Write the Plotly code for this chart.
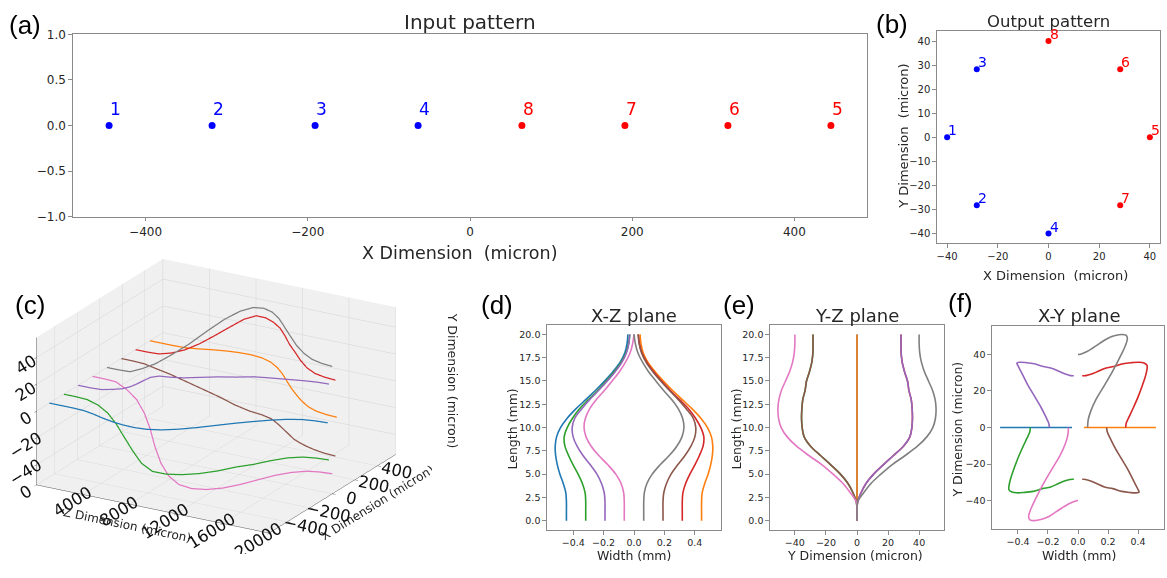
import plotly.graph_objects as go

# ---------------- data ----------------
# Input facet: fibre positions along X (micron) and their port numbers
input_x = [-445, -318, -191, -64, 64, 191, 318, 445]
input_labels = ["1", "2", "3", "4", "8", "7", "6", "5"]

# Output facet: port positions on the ring (micron)
output_labels = ["1", "2", "3", "4", "5", "6", "7", "8"]
output_x = [-40, -28.3, -28.3, 0, 40, 28.3, 28.3, 0]
output_y = [0, -28.3, 28.3, -40, 0, 28.3, -28.3, 40]

# Propagation length samples (mm)
z_mm = [0, 1, 2, 3, 4, 5, 6, 7, 8, 9, 10, 11, 12, 13, 14, 15, 16, 17, 18, 19, 20]

# Waveguide width coordinate X along the length (mm)
wg1_x = [-0.445, -0.445, -0.445, -0.449, -0.466, -0.488, -0.505, -0.516, -0.519, -0.510, -0.484,
         -0.440, -0.383, -0.318, -0.253, -0.194, -0.139, -0.092, -0.061, -0.046, -0.040]
wg5_x = [0.445, 0.445, 0.445, 0.449, 0.466, 0.488, 0.505, 0.516, 0.519, 0.510, 0.484,
         0.440, 0.383, 0.318, 0.253, 0.194, 0.139, 0.092, 0.061, 0.046, 0.040]
wg2_x = [-0.318, -0.318, -0.318, -0.322, -0.340, -0.368, -0.401, -0.431, -0.455, -0.460, -0.440,
         -0.405, -0.360, -0.300, -0.238, -0.182, -0.130, -0.085, -0.053, -0.036, -0.028]
wg6_x = [0.318, 0.318, 0.318, 0.322, 0.340, 0.368, 0.401, 0.431, 0.455, 0.460, 0.440,
         0.405, 0.360, 0.300, 0.238, 0.182, 0.130, 0.085, 0.053, 0.036, 0.028]
wg3_x = [-0.191, -0.191, -0.191, -0.196, -0.214, -0.244, -0.288, -0.336, -0.375, -0.401, -0.407,
         -0.390, -0.345, -0.292, -0.232, -0.176, -0.124, -0.080, -0.050, -0.034, -0.028]
wg7_x = [0.191, 0.191, 0.191, 0.196, 0.214, 0.244, 0.288, 0.336, 0.375, 0.401, 0.407,
         0.390, 0.345, 0.292, 0.232, 0.176, 0.124, 0.080, 0.050, 0.034, 0.028]
wg4_x = [-0.064, -0.064, -0.064, -0.068, -0.085, -0.120, -0.172, -0.232, -0.282, -0.316, -0.329,
         -0.320, -0.292, -0.248, -0.194, -0.144, -0.096, -0.057, -0.026, -0.009, 0.000]
wg8_x = [0.064, 0.064, 0.064, 0.068, 0.085, 0.120, 0.172, 0.232, 0.282, 0.316, 0.329,
         0.320, 0.292, 0.248, 0.194, 0.144, 0.096, 0.057, 0.026, 0.009, 0.000]

# Waveguide Y coordinate along the length (micron)
wg1_y = [0.0] * 21
wg5_y = [0.0] * 21
wg2_y = [0, 0, -0.4, -2.6, -5.8, -10.7, -16.9, -23.5, -29.9, -34.0, -35.3,
         -35.7, -35.5, -34.9, -33.4, -32.5, -30.6, -29.1, -28.4, -28.3, -28.3]
wg7_y = [0, 0, -0.4, -2.6, -5.8, -10.7, -16.9, -23.5, -29.9, -34.0, -35.3,
         -35.7, -35.5, -34.9, -33.4, -32.5, -30.6, -29.1, -28.4, -28.3, -28.3]
wg6_y = [0, 0, 0.4, 2.6, 5.8, 10.7, 16.9, 23.5, 29.9, 34.0, 35.3,
         35.7, 35.5, 34.9, 33.4, 32.5, 30.6, 29.1, 28.4, 28.3, 28.3]
wg3_y = [0, 0, 0.4, 2.6, 5.8, 10.7, 16.9, 23.5, 29.9, 34.0, 35.3,
         35.7, 35.5, 34.9, 33.4, 32.5, 30.6, 29.1, 28.4, 28.3, 28.3]
wg4_y = [0, 0, -0.4, -4.3, -9.0, -15.4, -22.5, -31.0, -38.9, -44.9, -48.8,
         -50.5, -50.9, -50.3, -48.6, -46.0, -43.4, -41.5, -40.4, -40.0, -40.0]
wg8_y = [0, 0, 0.4, 4.3, 9.0, 15.4, 22.5, 31.0, 38.9, 44.9, 48.8,
         50.5, 50.9, 50.3, 48.6, 46.0, 43.4, 41.5, 40.4, 40.0, 40.0]

# drawing order (matplotlib colour cycle order)
waveguides = [
    (wg1_x, wg1_y, "#1f77b4"),
    (wg5_x, wg5_y, "#ff7f0e"),
    (wg2_x, wg2_y, "#2ca02c"),
    (wg6_x, wg6_y, "#d62728"),
    (wg3_x, wg3_y, "#9467bd"),
    (wg7_x, wg7_y, "#8c564b"),
    (wg4_x, wg4_y, "#e377c2"),
    (wg8_x, wg8_y, "#7f7f7f"),
]

W, H = 1167, 578
TICK_FONT = "DejaVu Sans"
LABEL_FONT = "DejaVu Sans"
AX_COLOR = "#8a8a8a"
TXT_COLOR = "#262626"


def px(x):
    return x / W


def py(y):
    return 1 - y / H


fig = go.Figure()

# ---- (a) input pattern ----
in_colors = ["blue" if lab in "1234" else "red" for lab in input_labels]
fig.add_trace(go.Scatter(x=input_x, y=[0] * len(input_x), mode="markers",
                         marker=dict(size=7, color=in_colors), xaxis="x", yaxis="y",
                         showlegend=False, hoverinfo="skip"))

# ---- (b) output pattern ----
out_colors = ["blue" if lab in "1234" else "red" for lab in output_labels]
fig.add_trace(go.Scatter(x=output_x, y=output_y, mode="markers",
                         marker=dict(size=6, color=out_colors), xaxis="x2", yaxis="y2",
                         showlegend=False, hoverinfo="skip"))

# ---- (c) 3D trajectories, (d) X-Z, (e) Y-Z, (f) X-Y ----
for xs, ys, col in waveguides:
    fig.add_trace(go.Scatter3d(x=[z * 1000 for z in z_mm], y=[x * 1000 for x in xs], z=ys,
                               mode="lines", line=dict(color=col, width=2.5),
                               scene="scene", showlegend=False, hoverinfo="skip"))
for xs, ys, col in waveguides:
    fig.add_trace(go.Scatter(x=xs, y=z_mm, mode="lines", line=dict(color=col, width=1.6, shape="spline"),
                             xaxis="x3", yaxis="y3", showlegend=False, hoverinfo="skip"))
for xs, ys, col in waveguides:
    fig.add_trace(go.Scatter(x=ys, y=z_mm, mode="lines", line=dict(color=col, width=1.6, shape="spline"),
                             xaxis="x4", yaxis="y4", showlegend=False, hoverinfo="skip"))
for xs, ys, col in waveguides:
    fig.add_trace(go.Scatter(x=xs, y=ys, mode="lines", line=dict(color=col, width=1.6, shape="spline"),
                             xaxis="x5", yaxis="y5", showlegend=False, hoverinfo="skip"))


def axis(domain, anchor, rng, tickvals, fmt=None, size=12):
    d = dict(domain=domain, anchor=anchor, range=rng, tickvals=tickvals,
             showline=True, mirror=True, linecolor=AX_COLOR, linewidth=1.3,
             ticks="outside", ticklen=3.5, tickwidth=1, tickcolor=AX_COLOR,
             showgrid=False, zeroline=False,
             tickfont=dict(family=TICK_FONT, size=size, color=TXT_COLOR))
    if fmt:
        d["tickformat"] = fmt
    return d


layout = dict(
    width=W, height=H, margin=dict(l=0, r=0, t=0, b=0),
    paper_bgcolor="white", plot_bgcolor="white",
    xaxis=axis([px(73), px(867)], "y", [-489.5, 489.5], [-400, -200, 0, 200, 400], size=12),
    yaxis=axis([py(215), py(28)], "x", [-1, 1], [-1, -0.5, 0, 0.5, 1], ".1f", size=12),
    xaxis2=axis([px(937), px(1160)], "y2", [-44, 44], [-40, -20, 0, 20, 40], size=10),
    yaxis2=axis([py(242), py(25)], "x2", [-44, 44], [-40, -30, -20, -10, 0, 10, 20, 30, 40], size=10),
    xaxis3=axis([px(547), px(721)], "y3", [-0.573, 0.573], [-0.4, -0.2, 0, 0.2, 0.4], ".1f", size=9.5),
    yaxis3=axis([py(536), py(326)], "x3", [-1, 21], [0, 2.5, 5, 7.5, 10, 12.5, 15, 17.5, 20], ".1f", size=9.5),
    xaxis4=axis([px(770), px(944)], "y4", [-56, 56], [-40, -20, 0, 20, 40], size=9.5),
    yaxis4=axis([py(536), py(326)], "x4", [-1, 21], [0, 2.5, 5, 7.5, 10, 12.5, 15, 17.5, 20], ".1f", size=9.5),
    xaxis5=axis([px(992), px(1164)], "y5", [-0.573, 0.573], [-0.4, -0.2, 0, 0.2, 0.4], ".1f", size=9.5),
    yaxis5=axis([py(535), py(327)], "x5", [-55.5, 55.5], [-40, -20, 0, 20, 40], size=9.5),
)


def ax3(title, rng, tickvals):
    return dict(title=dict(text=title, font=dict(family=LABEL_FONT, size=12, color=TXT_COLOR)),
                range=rng, tickvals=tickvals, tickformat="d", showbackground=True,
                backgroundcolor="#f0f0f0", gridcolor="#d4d4d4", gridwidth=1, zeroline=False,
                showspikes=False, linecolor="#555555", showline=True, ticks="outside", ticklen=4,
                tickfont=dict(family=TICK_FONT, size=14, color="#111111"))


layout["scene"] = dict(
    domain=dict(x=[0.0, 0.37], y=[0.03, 0.59]),
    xaxis=ax3("Z Dimension (micron)", [0, 20000], [0, 4000, 8000, 12000, 16000, 20000]),
    yaxis=ax3("X Dimension (micron)", [-560, 560], [-400, -200, 0, 200, 400]),
    # vertical axis title is written beside the box as a separate label
    zaxis=ax3("", [-55, 55], [-40, -20, 0, 20, 40]),
    aspectmode="manual", aspectratio=dict(x=1.70, y=1.60, z=1.0),
    camera=dict(eye=dict(x=0.934, y=-1.617, z=0.717), center=dict(x=0, y=0, z=0.0),
                projection=dict(type="orthographic")),
    bgcolor="rgba(0,0,0,0)",
)

annotations = []


def text(s, x, y, size, family=LABEL_FONT, color=TXT_COLOR, angle=0):
    annotations.append(dict(text=s, x=px(x), y=py(y), xref="paper", yref="paper",
                            xanchor="center", yanchor="middle", showarrow=False, textangle=angle,
                            font=dict(family=family, size=size, color=color)))


# panel letters
for lab, x, y in [("(a)", 25, 18), ("(b)", 892, 17), ("(c)", 30, 305),
                  ("(d)", 497, 305), ("(e)", 739, 305), ("(f)", 960, 303)]:
    text(lab, x, y, 26, family="Liberation Sans", color="black")

# titles
text("Input pattern", 470, 15, 20)
text("Output pattern", 1048, 15, 16.5)
text("X-Z plane", 634, 316, 18)
text("Y-Z plane", 857, 316, 18)
text("X-Y plane", 1079, 316, 18)

# axis titles
text("X Dimension\u00a0 (micron)", 460, 252, 17.5)
text("X Dimension\u00a0 (micron)", 1055, 275, 13)
text("Y Dimension\u00a0 (micron)", 904, 133, 13, angle=-90)
text("Y Dimension (micron)", 452, 383, 12.5, angle=90)
text("Width (mm)", 634, 562, 12.5)
text("Length (mm)", 513, 433, 12.5, angle=-90)
text("Y Dimension (micron)", 855, 562, 12.5)
text("Length (mm)", 737, 433, 12.5, angle=-90)
text("Width (mm)", 1079, 562, 12.5)
text("Y Dimension (micron)", 958, 433, 12.5, angle=-90)

# port numbers
for xv, lab, col in zip(input_x, input_labels, in_colors):
    annotations.append(dict(text=lab, x=xv, y=0.1, xref="x", yref="y", xanchor="left", yanchor="bottom",
                            showarrow=False, yshift=-5, xshift=-1,
                            font=dict(family=TICK_FONT, size=17, color=col)))
for xv, yv, lab, col in zip(output_x, output_y, output_labels, out_colors):
    annotations.append(dict(text=lab, x=xv, y=yv, xref="x2", yref="y2", xanchor="left", yanchor="bottom",
                            showarrow=False, yshift=-3, xshift=-1,
                            font=dict(family=TICK_FONT, size=14, color=col)))

layout["annotations"] = annotations
fig.update_layout(**layout)

fig.write_html("out.html")
